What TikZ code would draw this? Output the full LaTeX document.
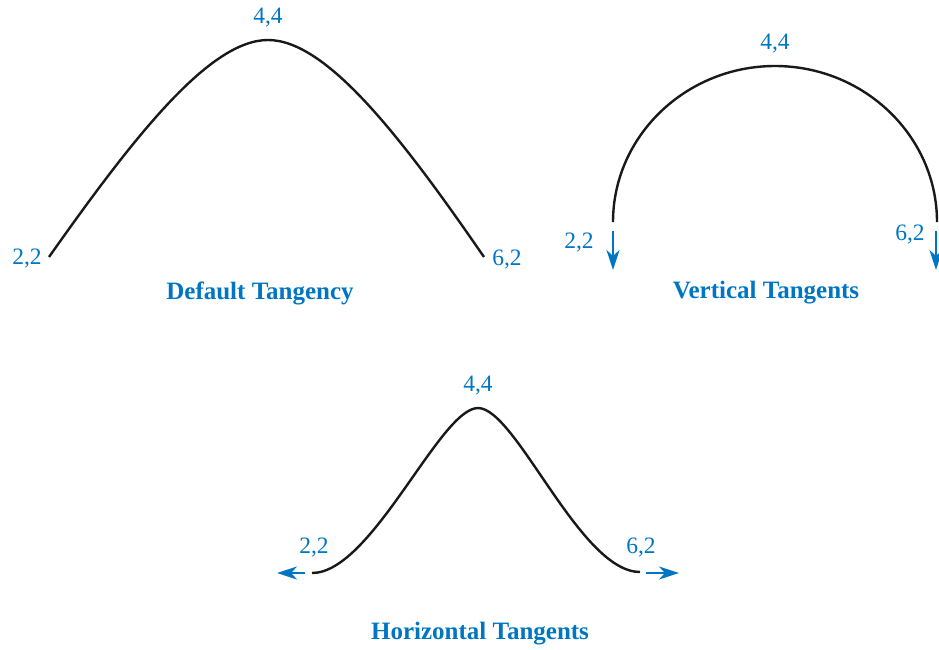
\documentclass[tikz,border=0pt]{standalone}
\usepackage{fontspec}
\setmainfont{Liberation Serif}
\usetikzlibrary{arrows.meta}
\definecolor{tblue}{RGB}{0,118,194}
\begin{document}
\begin{tikzpicture}[x=1pt,y=-1pt,
  curve/.style={line width=2.4pt,draw=black!90},
  tarrow/.style={line width=2.2pt,draw=tblue,-{Stealth[length=20pt,width=13pt,inset=6pt]}},
  lbl/.style={text=tblue,font=\fontsize{23.5}{25}\selectfont,inner sep=0pt},
  ttl/.style={text=tblue,font=\fontsize{25}{27}\selectfont\bfseries,inner sep=0pt}]
\useasboundingbox (0,0) rectangle (939,649);
% Default tangency
\coordinate (a1) at (49,257);
\coordinate (a2) at (268,40);
\coordinate (a3) at (484,257);
\draw[curve] (a1) .. controls (135,135) and (210,40) .. (a2)
  .. controls (326,40) and (400,135) .. (a3);
\node[lbl] (la1) at (27,259) {2,2};
\node[lbl] (la2) at (268,18) {4,4};
\node[lbl] (la3) at (507,260) {6,2};
\node[ttl] (ta) at (260,293) {Default Tangency};
% Vertical tangents
\coordinate (b1) at (613,222);
\coordinate (b2) at (775,66);
\coordinate (b3) at (937,222);
\draw[curve] (b1) .. controls (613,136) and (686,66) .. (b2)
  .. controls (864,66) and (937,136) .. (b3);
\coordinate (b1s) at (613,231);
\coordinate (b1e) at (613,270);
\coordinate (b3s) at (936,231);
\coordinate (b3e) at (936,270);
\draw[tarrow] (b1s) -- (b1e);
\draw[tarrow] (b3s) -- (b3e);
\node[lbl] (lb1) at (579,243) {2,2};
\node[lbl] (lb2) at (775,44) {4,4};
\node[lbl] (lb3) at (910,235) {6,2};
\node[ttl] (tb) at (766,293) {Vertical Tangents};
% Horizontal tangents
\coordinate (c1) at (312,573);
\coordinate (c2) at (478,408);
\coordinate (c3) at (640,572);
\draw[curve] (c1) .. controls (372,573) and (440,408) .. (c2)
  .. controls (516,408) and (580,572) .. (c3);
\coordinate (c1s) at (305,573);
\coordinate (c1e) at (277,573);
\coordinate (c3s) at (646,573);
\coordinate (c3e) at (679,573);
\draw[tarrow] (c1s) -- (c1e);
\draw[tarrow] (c3s) -- (c3e);
\node[lbl] (lc1) at (314,548) {2,2};
\node[lbl] (lc2) at (478,386) {4,4};
\node[lbl] (lc3) at (641,548) {6,2};
\node[ttl] (tc) at (480,634) {Horizontal Tangents};
\end{tikzpicture}
\end{document}
